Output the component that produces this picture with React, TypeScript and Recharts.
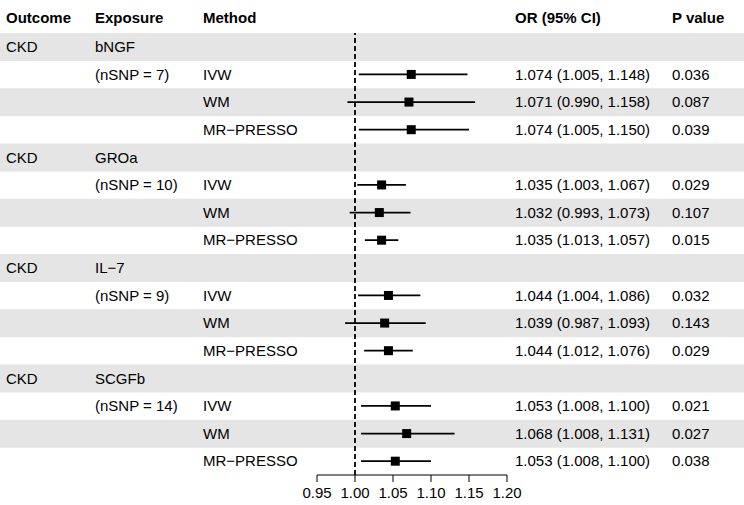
import { ComposedChart, Bar, Line, ErrorBar, XAxis, YAxis, ReferenceLine } from "recharts";

const outcome = "CKD";
const exposures = ["bNGF", "GROa", "IL−7", "SCGFb"];
const nSnp = [7, 10, 9, 14];
const methods = ["IVW", "WM", "MR−PRESSO"];

// one entry per method row, grouped by exposure
const orEst = [1.074, 1.071, 1.074, 1.035, 1.032, 1.035, 1.044, 1.039, 1.044, 1.053, 1.068, 1.053];
const ciLow = [1.005, 0.99, 1.005, 1.003, 0.993, 1.013, 1.004, 0.987, 1.012, 1.008, 1.008, 1.008];
const ciHigh = [1.148, 1.158, 1.15, 1.067, 1.073, 1.057, 1.086, 1.093, 1.076, 1.1, 1.131, 1.1];
const pValues = ["0.036", "0.087", "0.039", "0.029", "0.107", "0.015", "0.032", "0.143", "0.029", "0.021", "0.027", "0.038"];
const xTicks = [0.95, 1.0, 1.05, 1.1, 1.15, 1.2];

const W = 744;
const H = 505;
const TOP = 33;
const X_AXIS_H = 30;
const LEFT_W = 317;
const RIGHT_W = 237;
const FONT = "'Liberation Sans', Arial, Helvetica, sans-serif";
const INK = "#000";
const BAND = "#E5E5E5";

type Row = {
  key: string;
  outcome: string;
  exposure: string;
  method: string;
  or?: number;
  err?: [number, number];
  ci: string;
  p: string;
  stripe: number | null;
};

const rows: Row[] = [];
exposures.forEach((exp, e) => {
  rows.push({ key: `h${e}`, outcome, exposure: exp, method: "", ci: "", p: "", stripe: null });
  methods.forEach((m, j) => {
    const i = e * 3 + j;
    rows.push({
      key: `r${i}`,
      outcome: "",
      exposure: j === 0 ? `(nSNP = ${nSnp[e]})` : "",
      method: m,
      or: orEst[i],
      err: [orEst[i] - ciLow[i], ciHigh[i] - orEst[i]],
      ci: `${orEst[i].toFixed(3)} (${ciLow[i].toFixed(3)}, ${ciHigh[i].toFixed(3)})`,
      p: pValues[i],
      stripe: null,
    });
  });
});
// zebra stripes on every other row
rows.forEach((r, i) => {
  r.stripe = i % 2 === 0 ? 1.2 : null;
});

const byKey = new Map(rows.map((r) => [r.key, r]));

const txt = { fontFamily: FONT, fontSize: 15, fill: INK };

function LeftTick(props: any) {
  const { y, payload } = props;
  const r = byKey.get(payload.value);
  if (!r) return null;
  return (
    <g>
      <text x={6} y={y} dy="0.35em" {...txt}>{r.outcome}</text>
      <text x={95} y={y} dy="0.35em" {...txt}>{r.exposure}</text>
      <text x={203} y={y} dy="0.35em" {...txt}>{r.method}</text>
    </g>
  );
}

function RightTick(props: any) {
  const { y, payload } = props;
  const r = byKey.get(payload.value);
  if (!r) return null;
  return (
    <g>
      <text x={515} y={y} dy="0.35em" {...txt}>{r.ci}</text>
      <text x={672} y={y} dy="0.35em" {...txt}>{r.p}</text>
    </g>
  );
}

// stripe spans the full table width, not just the plot
function Stripe(props: any) {
  const { y, height, payload } = props;
  if (!payload || payload.stripe == null) return <g />;
  return <rect x={0} y={y} width={W} height={height} fill={BAND} />;
}

function Square(props: any) {
  const { cx, cy, index } = props;
  if (cx == null || cy == null || Number.isNaN(cx)) return <g key={`d${index}`} />;
  return <rect key={`d${index}`} x={cx - 4.5} y={cy - 4.5} width={9} height={9} fill="#000" />;
}

function Header() {
  const hy = 18;
  const bold = { ...txt, fontWeight: 700 };
  return (
    <g>
      <text x={6} y={hy} dy="0.35em" {...bold}>Outcome</text>
      <text x={95} y={hy} dy="0.35em" {...bold}>Exposure</text>
      <text x={203} y={hy} dy="0.35em" {...bold}>Method</text>
      <text x={515} y={hy} dy="0.35em" {...bold}>OR (95% CI)</text>
      <text x={672} y={hy} dy="0.35em" {...bold}>P value</text>
    </g>
  );
}

export default function App() {
  return (
    <div style={{ width: W, height: H, background: "#fff" }}>
      <style>{"body{margin:0}"}</style>
      <ComposedChart
        width={W}
        height={H}
        data={rows}
        layout="vertical"
        barCategoryGap={0}
        margin={{ top: TOP, right: 0, bottom: 0, left: 0 }}
      >
        <XAxis
          type="number"
          domain={[0.95, 1.2]}
          ticks={xTicks}
          tickFormatter={(v: number) => v.toFixed(2)}
          height={X_AXIS_H}
          tickSize={7}
          tickMargin={5}
          axisLine={{ stroke: "#000" }}
          tickLine={{ stroke: "#000" }}
          tick={{ fontFamily: FONT, fontSize: 15, fill: INK }}
        />
        <YAxis
          type="category"
          scale="band"
          dataKey="key"
          width={LEFT_W}
          axisLine={false}
          tickLine={false}
          tick={<LeftTick />}
          interval={0}
        />
        <YAxis
          yAxisId="right"
          orientation="right"
          type="category"
          scale="band"
          dataKey="key"
          width={RIGHT_W}
          axisLine={false}
          tickLine={false}
          tick={<RightTick />}
          interval={0}
        />
        <Bar dataKey="stripe" shape={Stripe} isAnimationActive={false} />
        <ReferenceLine x={1} stroke="#000" strokeWidth={1.8} strokeDasharray="5 3" ifOverflow="visible" />
        <Line
          dataKey="or"
          stroke="none"
          dot={Square}
          activeDot={false}
          isAnimationActive={false}
          connectNulls={false}
        >
          <ErrorBar dataKey="err" direction="x" width={0} stroke="#000" strokeWidth={1.7} />
        </Line>
        <Header />
      </ComposedChart>
    </div>
  );
}
